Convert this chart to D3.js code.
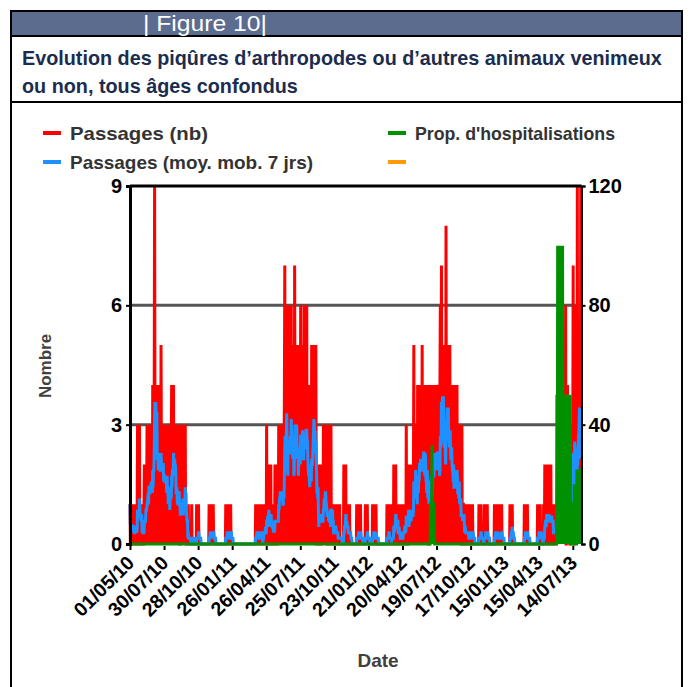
<!DOCTYPE html>
<html><head><meta charset="utf-8">
<script src="https://cdn.jsdelivr.net/npm/d3@7/dist/d3.min.js"></script>
<style>
body{margin:0;background:#fff;}
svg{display:block;font-family:"Liberation Sans",Arial,sans-serif;}
</style>
</head><body>
<svg id="chart" width="694" height="687"></svg>
<script>
// ---------- DATA ----------
const startDate = "2010-05-01";
const tickLabels = ["01/05/10","30/07/10","28/10/10","26/01/11","26/04/11","25/07/11","23/10/11",
                    "21/01/12","20/04/12","19/07/12","17/10/12","15/01/13","15/04/13","14/07/13"];
const leftTicks = [0, 3, 6, 9];
const rightTicks = [0, 40, 80, 120];
// Passages (nb): one digit per day, one string per 90-day period (last one shorter)
const passagesByPeriod = [
 "1001010010 0100101001 3010030100 1001000120 1020130210 3120302130 4032493041 2413024130 3052031302",
 "3021302130 1030201302 4031240230 3010302103 0100302010 2031103010 0000100000 0001000000 0000001000",
 "0100000000 0000000000 0000000001 0010001000 1000000000 0000000000 0000000000 0001000100 0010001000",
 "0000000000 0000000000 0000000000 0000000000 0000000000 0000000000 0010010000 1000100000 0010100010",
 "0300100201 0020010010 1002010100 2013020301 3020103247 2013602060 2604136020 3250173140 5024103520",
 "3602504130 6305240610 2031402130 5304352402 0520010200 2010100201 0302103010 1003001002 0300010010",
 "1001000100 0000100000 0000020100 2001000100 1000000000 0000000001 0000100001 0000000000 0010000100",
 "0000000000 0100100000 1000000000 0000000000 0000000001 0000100000 0010000200 1020010100 0100000100",
 "0010101000 3001002010 2010201102 5020130210 4023140320 3150241302 4102041020 0420140102 4140320413",
 "1430230314 6047135240 3052081530 5240351204 2041030214 0310401030 3010100300 1100010010 0010000100",
 "0100010000 0000000000 0010000100 0000001000 1000100000 0000000000 0001001000 0100000100 0010000000",
 "0000000000 0000100100 1000000000 0000000000 0000000000 0010010000 1000000000 0000000000 0000000100",
 "0100100000 0001002010 0201020010 1020100100 0101001010 1020130102 2031020103 3600104020 1200120301",
 "3700160201 2090341520 3904"
];
// Prop. d'hospitalisations (%), given where non-zero: first date of each run and the daily values
const hospRunStart = ["2012-07-03", "2013-06-02"];
const hospRun1 = [14, 0, 13, 14, 33, 14, 0, 13, 14, 0, 12];
const hospRun2 = [50, 0, 100, 50, 100, 0, 100, 50, 100, 33, 100, 50, 0, 100, 50, 100, 0, 50, 0, 50, 33,
                  0, 50, 25, 50, 0, 50, 0, 33, 50, 0, 50, 20, 50, 0, 50, 0, 14, 0, 0, 0, 0,
                  0, 14, 0, 0, 20, 0, 0, 12, 0, 0, 0,
                  25, 0, 25, 14, 25, 0, 20, 25, 0, 25, 17, 25, 25];
const legendLabels = ["Passages (nb)", "Passages (moy. mob. 7 jrs)", "Prop. d'hospitalisations", ""];
const colors = {red:"#ff0000", blue:"#1e90ff", green:"#009000", orange:"#ff9900"};

// ---------- BUILD SERIES ----------
const t0 = new Date(startDate + "T00:00:00Z");
const passages = passagesByPeriod.join("").replace(/\s/g, "").split("").map(Number);
const N = passages.length;
const days = d3.range(N).map(i => d3.utcDay.offset(t0, i));
const movAvg = passages.map((v, i) => d3.mean(passages.slice(Math.max(0, i - 6), i + 1)));
const hosp = new Array(N).fill(0);
[hospRun1, hospRun2].forEach((run, k) => {
  const s = Math.round((new Date(hospRunStart[k] + "T00:00:00Z") - t0) / 864e5);
  run.forEach((v, j) => { if (s + j < N) hosp[s + j] = v; });
});

// ---------- LAYOUT ----------
const svg = d3.select("#chart");
const plot = {left:130, right:581.5, top:186, bottom:544};

// frame
svg.append("rect").attr("x", 11).attr("y", 11).attr("width", 671).attr("height", 700)
  .attr("fill", "#fff").attr("stroke", "#000").attr("stroke-width", 2);
svg.append("rect").attr("x", 12).attr("y", 12).attr("width", 669).attr("height", 23).attr("fill", "#5b6c8f");
svg.append("line").attr("x1", 11).attr("x2", 682).attr("y1", 36).attr("y2", 36).attr("stroke", "#000").attr("stroke-width", 2);
svg.append("line").attr("x1", 11).attr("x2", 682).attr("y1", 102).attr("y2", 102).attr("stroke", "#000").attr("stroke-width", 2);
svg.append("text").attr("x", 143).attr("y", 31).attr("fill", "#fff").attr("font-size", 22)
  .attr("textLength", 124).attr("lengthAdjust", "spacingAndGlyphs")
  .text("| Figure 10|");
const title = svg.append("text").attr("fill", "#1b2d4f").attr("font-size", 19.8).attr("font-weight", "bold");
title.append("tspan").attr("x", 22).attr("y", 65).text("Evolution des piqûres d’arthropodes ou d’autres animaux venimeux");
title.append("tspan").attr("x", 22).attr("y", 93).text("ou non, tous âges confondus");

// scales
const x = d3.scaleUtc().domain([t0, days[N - 1]]).range([plot.left, plot.right]);
const yL = d3.scaleLinear().domain([0, 9]).range([plot.bottom, plot.top]);
const yR = d3.scaleLinear().domain([0, 120]).range([plot.bottom, plot.top]);

// grid lines
svg.append("g").selectAll("line").data(leftTicks.filter(v => v > 0 && v < 9)).join("line")
  .attr("x1", plot.left).attr("x2", plot.right).attr("y1", d => yL(d)).attr("y2", d => yL(d))
  .attr("stroke", "#555").attr("stroke-width", 3);

// series
const lineL = d3.line().x((d, i) => x(days[i])).y(d => yL(d));
const lineR = d3.line().x((d, i) => x(days[i])).y(d => yR(d));
svg.append("path").datum(passages).attr("d", lineL).attr("fill", "none")
  .attr("stroke", colors.red).attr("stroke-width", 3);
svg.append("path").datum(movAvg).attr("d", lineL).attr("fill", "none")
  .attr("stroke", colors.blue).attr("stroke-width", 3);
svg.append("path").datum(hosp).attr("d", lineR).attr("fill", "none")
  .attr("stroke", colors.green).attr("stroke-width", 3);

// top border
svg.append("line").attr("x1", plot.left).attr("x2", plot.right).attr("y1", plot.top).attr("y2", plot.top)
  .attr("stroke", "#000").attr("stroke-width", 3);

// axes
const tickDates = tickLabels.map((_, i) => d3.utcDay.offset(t0, 90 * i));
const xAxis = svg.append("g").attr("transform", `translate(0,${plot.bottom})`)
  .call(d3.axisBottom(x).tickValues(tickDates).tickSize(5).tickFormat((d, i) => tickLabels[i]));
xAxis.select(".domain").remove();
xAxis.selectAll(".tick line").attr("stroke", "#000").attr("stroke-width", 2).attr("y1", 2).attr("y2", 6);
xAxis.selectAll(".tick text").attr("x", 0).attr("y", 0).attr("dy", 0)
  .attr("text-anchor", "end").attr("transform", "translate(5,20) rotate(-45)")
  .attr("font-size", 19.5).attr("font-weight", "bold").attr("fill", "#000")
  .attr("font-family", "'Liberation Sans',Arial,sans-serif");

const lAxis = svg.append("g").attr("transform", `translate(${plot.left},0)`)
  .call(d3.axisLeft(yL).tickValues(leftTicks).tickSize(4).tickPadding(4));
lAxis.select(".domain").attr("stroke", "#000").attr("stroke-width", 3);
lAxis.selectAll(".tick line").attr("stroke", "#000").attr("stroke-width", 2);
lAxis.selectAll(".tick text").attr("font-size", 20).attr("font-weight", "bold").attr("fill", "#000")
  .attr("font-family", "'Liberation Sans',Arial,sans-serif");

const rAxis = svg.append("g").attr("transform", `translate(${plot.right},0)`)
  .call(d3.axisRight(yR).tickValues(rightTicks).tickSize(4).tickPadding(3));
rAxis.select(".domain").attr("stroke", "#000").attr("stroke-width", 2);
rAxis.selectAll(".tick line").attr("stroke", "#000").attr("stroke-width", 2);
rAxis.selectAll(".tick text").attr("font-size", 20).attr("font-weight", "bold").attr("fill", "#000")
  .attr("font-family", "'Liberation Sans',Arial,sans-serif");

// axis titles
svg.append("text").attr("transform", "translate(51,366) rotate(-90)").attr("text-anchor", "middle")
  .attr("font-size", 17).attr("font-weight", "bold").attr("fill", "#404040").text("Nombre");
svg.append("text").attr("x", 378).attr("y", 667).attr("text-anchor", "middle")
  .attr("font-size", 19).attr("font-weight", "bold").attr("fill", "#404040").text("Date");

// legend
const legendItems = [
  {label: legendLabels[0], color: colors.red, x: 43, y: 133, w: 138},
  {label: legendLabels[1], color: colors.blue, x: 43, y: 162, w: 243},
  {label: legendLabels[2], color: colors.green, x: 388, y: 133, w: 200},
  {label: legendLabels[3], color: colors.orange, x: 388, y: 162, w: 0}
];
const lg = svg.append("g").selectAll("g").data(legendItems).join("g")
  .attr("transform", d => `translate(${d.x},${d.y})`);
lg.append("line").attr("x1", 0).attr("x2", 18).attr("y1", 0).attr("y2", 0)
  .attr("stroke", d => d.color).attr("stroke-width", 4);
lg.filter(d => d.label).append("text").attr("x", 27).attr("y", 6.5).attr("font-size", 18.5).attr("font-weight", "bold")
  .attr("textLength", d => d.w).attr("lengthAdjust", "spacingAndGlyphs")
  .attr("fill", "#333").text(d => d.label);
</script>
</body></html>
